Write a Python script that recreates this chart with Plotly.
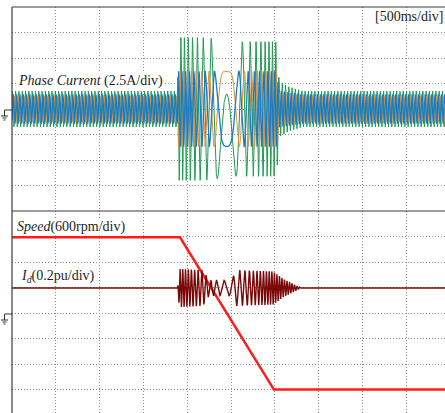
import numpy as np
import plotly.graph_objects as go

# ---------------- data ----------------
T_END = 4.943                      # visible time span (s), 500 ms/div
# motor speed (rpm): flat, linear reversal, flat
speed_t = [0.0, 1.918, 2.99, T_END]
speed_rpm = [1780, 1780, -1800, -1800]

# electrical frequency of the phase currents at base speed
f_base = 26.5          # Hz
rpm_base = 1780

# phase-current peak envelopes (A)
green_env_t = [0.0, 1.89, 1.90, 2.20, 2.55, 3.02, 3.05, 3.15, 3.32, T_END]
green_env_A = [1.75, 1.75, 7.0, 7.0, 6.6, 6.6, 2.75, 2.2, 1.75, 1.75]
orange_env_t = [0.0, 1.89, 1.90, 3.02, 3.05, 3.32, T_END]
orange_env_A = [1.25, 1.25, 3.7, 3.7, 1.6, 1.25, 1.25]
blue_env_t = [0.0, 1.89, 1.90, 3.02, 3.05, 3.32, T_END]
blue_env_A = [1.45, 1.45, 3.7, 3.7, 1.8, 1.45, 1.45]

# d-axis current (pu): level and ripple envelope
id_level = 0.196
id_env_t = [0.0, 1.89, 1.91, 2.18, 2.25, 2.50, 2.56, 2.98, 3.10, 3.30, T_END]
id_env_pu = [0.0, 0.0, 0.15, 0.14, 0.06, 0.06, 0.14, 0.13, 0.07, 0.0, 0.0]
id_ripple_extra = 8.0   # Hz

# ---------------- waveform reconstruction ----------------
dt = 0.001
t = np.arange(0.0, T_END, dt)
spd = np.interp(t, speed_t, speed_rpm)
f_el = f_base * spd / rpm_base
theta = 2 * np.pi * np.cumsum(f_el) * dt
i0 = int(np.argmin(np.abs(spd)))
th0 = theta[i0]

ia = np.interp(t, green_env_t, green_env_A) * np.cos(theta - 1.35 - th0)
ib = np.interp(t, orange_env_t, orange_env_A) * np.cos(theta - th0 + 0.1)
ic = np.interp(t, blue_env_t, blue_env_A) * np.cos(theta + np.pi - th0 - 0.1)

ph_id = 2 * np.pi * np.cumsum(np.abs(f_el) + id_ripple_extra) * dt
i_d = id_level + np.interp(t, id_env_t, id_env_pu) * np.sin(ph_id)

# ---------------- figure ----------------
W, H = 445, 413
ML, MT = 12, 7
PW, PH = W - ML, H - MT


def px(x):
    return (x - ML) / PW


def py(y):
    return (H - y) / PH


SPLIT = py(211)

fig = go.Figure()
fig.add_trace(go.Scatter(x=t, y=ia, mode="lines", line=dict(color="#1f9a4e", width=1),
                         xaxis="x", yaxis="y", hoverinfo="skip"))
fig.add_trace(go.Scatter(x=t, y=ib, mode="lines", line=dict(color="#e0913e", width=1),
                         xaxis="x", yaxis="y", hoverinfo="skip"))
fig.add_trace(go.Scatter(x=t, y=ic, mode="lines", line=dict(color="#1b7cc4", width=1.3),
                         xaxis="x", yaxis="y", hoverinfo="skip"))
fig.add_trace(go.Scatter(x=speed_t, y=speed_rpm, mode="lines", line=dict(color="#ff1c1c", width=2.5),
                         xaxis="x", yaxis="y2", hoverinfo="skip"))
fig.add_trace(go.Scatter(x=t, y=i_d, mode="lines", line=dict(color="#7a0808", width=1.4),
                         xaxis="x", yaxis="y3", hoverinfo="skip"))

grid = dict(showgrid=True, gridcolor="#8c8c8c", griddash="1px,2px", gridwidth=1,
            showticklabels=False, zeroline=False, showline=False, ticks="")

fig.update_layout(
    width=W, height=H,
    margin=dict(l=ML, r=0, t=MT, b=0, pad=0),
    paper_bgcolor="white", plot_bgcolor="white",
    showlegend=False,
    xaxis=dict(range=[0, T_END], dtick=0.5, tick0=0, anchor="y", **grid),
    yaxis=dict(domain=[SPLIT, 1], range=[-10, 10], dtick=2.5, tick0=0, anchor="x", **grid),
    yaxis2=dict(domain=[0, SPLIT], range=[-3.92 * 600, 4 * 600], dtick=600, tick0=0,
                anchor="x", **grid),
    yaxis3=dict(overlaying="y2", range=[-3.92 * 0.2, 4 * 0.2], visible=False, anchor="x"),
)

border = dict(color="#3a3a3a", width=1.2)
shapes = [
    dict(type="line", xref="paper", yref="paper", x0=0, x1=1, y0=1, y1=1, line=border),
    dict(type="line", xref="paper", yref="paper", x0=0, x1=0, y0=0, y1=1, line=border),
    dict(type="line", xref="paper", yref="paper", x0=0, x1=1, y0=SPLIT, y1=SPLIT, line=border),
]
gnd = dict(color="#333333", width=1)
for gy in (110, 314):
    shapes += [
        dict(type="line", xref="paper", yref="paper", x0=px(4.5), x1=px(12), y0=py(gy), y1=py(gy), line=gnd),
        dict(type="line", xref="paper", yref="paper", x0=px(4.5), x1=px(4.5), y0=py(gy), y1=py(gy + 6), line=gnd),
        dict(type="line", xref="paper", yref="paper", x0=px(1), x1=px(8), y0=py(gy + 6), y1=py(gy + 6), line=gnd),
        dict(type="line", xref="paper", yref="paper", x0=px(2.5), x1=px(6.5), y0=py(gy + 8), y1=py(gy + 8), line=gnd),
        dict(type="line", xref="paper", yref="paper", x0=px(3.5), x1=px(5.5), y0=py(gy + 10), y1=py(gy + 10), line=gnd),
    ]
fig.update_layout(shapes=shapes)

font = dict(family="Liberation Serif", size=14, color="#1e1e1e")
ann = [
    dict(text="[500ms/div]", x=px(444), y=py(17), xanchor="right", yanchor="middle"),
    dict(text="<i>Phase Current</i> (2.5A/div)", x=px(17), y=py(81), xanchor="left",
         yanchor="middle", bgcolor="white"),
    dict(text="<i>Speed</i>(600rpm/div)", x=px(16), y=py(227), xanchor="left",
         yanchor="middle", bgcolor="white"),
    dict(text="<i>I<sub>d</sub></i>(0.2pu/div)", x=px(20), y=py(276), xanchor="left",
         yanchor="middle", bgcolor="white"),
]
for a in ann:
    a.update(xref="paper", yref="paper", showarrow=False, font=font, borderpad=0)
fig.update_layout(annotations=ann)

fig.write_html("out.html", config={"displayModeBar": False},
               post_script="document.body.style.margin='0';")
